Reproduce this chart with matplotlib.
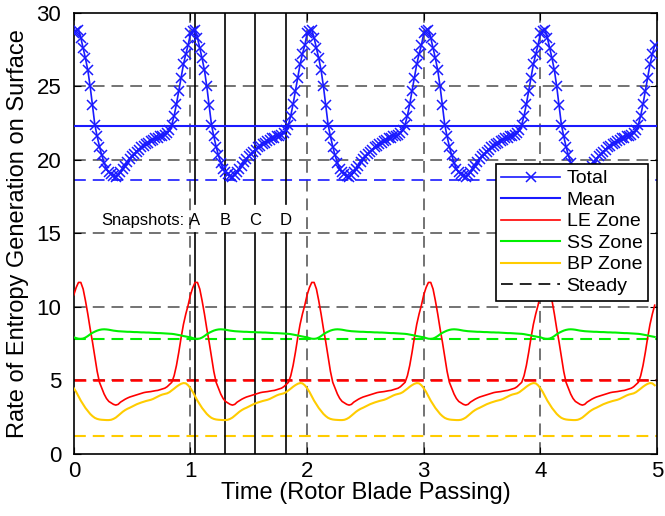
import numpy as np
import matplotlib
matplotlib.use("Agg")
import matplotlib.pyplot as plt
from matplotlib.lines import Line2D

plt.rcParams["font.family"] = ["Liberation Sans", "DejaVu Sans"]
plt.rcParams["lines.scale_dashes"] = False

# One blade-passing period, sampled every 0.02
dt = 0.02
n_periods = 5

total_period = [
    28.6, 28.8, 28.85, 28.3, 27.6, 26.9, 26.1, 25.0, 23.7, 22.4,
    21.6, 20.9, 20.3, 19.8, 19.4, 19.15, 19.0, 18.9, 18.85, 18.95,
    19.15, 19.4, 19.6, 19.85, 20.05, 20.25, 20.4, 20.55, 20.7, 20.85,
    20.95, 21.05, 21.15, 21.25, 21.35, 21.45, 21.5, 21.6, 21.65, 21.7,
    21.8, 22.0, 22.4, 23.0, 23.8, 24.7, 25.6, 26.5, 27.2, 27.8,
]
le_period = [
    10.8, 11.3, 11.65, 11.65, 11.2, 10.4, 9.5, 8.5, 7.6, 6.6,
    5.6, 4.85, 4.45, 4.05, 3.75, 3.55, 3.45, 3.35, 3.3, 3.35,
    3.5, 3.6, 3.7, 3.78, 3.85, 3.9, 3.95, 4.0, 4.05, 4.1,
    4.15, 4.18, 4.2, 4.22, 4.25, 4.28, 4.3, 4.35, 4.4, 4.45,
    4.55, 4.7, 4.85, 5.3, 6.0, 6.9, 7.9, 8.8, 9.5, 10.1,
]
ss_period = [
    7.92, 7.86, 7.82, 7.81, 7.83, 7.9, 8.0, 8.12, 8.22, 8.3,
    8.37, 8.42, 8.45, 8.46, 8.45, 8.43, 8.4, 8.37, 8.35, 8.33,
    8.32, 8.31, 8.3, 8.29, 8.29, 8.28, 8.27, 8.27, 8.26, 8.25,
    8.25, 8.24, 8.24, 8.23, 8.22, 8.21, 8.2, 8.2, 8.19, 8.18,
    8.17, 8.16, 8.15, 8.13, 8.1, 8.07, 8.04, 8.0, 7.97, 7.94,
]
bp_period = [
    4.45, 4.2, 3.9, 3.6, 3.35, 3.1, 2.9, 2.7, 2.55, 2.43,
    2.36, 2.32, 2.3, 2.29, 2.28, 2.28, 2.3, 2.36, 2.45, 2.58,
    2.72, 2.85, 2.96, 3.05, 3.12, 3.2, 3.28, 3.36, 3.42, 3.48,
    3.53, 3.58, 3.62, 3.66, 3.72, 3.8, 3.88, 3.96, 4.02, 4.06,
    4.1, 4.18, 4.3, 4.42, 4.55, 4.66, 4.75, 4.8, 4.78, 4.65,
]

mean_total = 22.3
steady_total = 18.6
steady_le = 5.0
steady_ss = 7.8
steady_bp = 1.2

snapshot_names = ["A", "B", "C", "D"]
snapshot_times = [1.035, 1.295, 1.555, 1.815]

time = np.arange(len(total_period) * n_periods) * dt
total = np.tile(total_period, n_periods)
le = np.tile(le_period, n_periods)
ss = np.tile(ss_period, n_periods)
bp = np.tile(bp_period, n_periods)

BLUE = "#1a1aff"
RED = "#ff0000"
GREEN = "#00f000"
YELLOW = "#ffcc00"
DASH = (8.5, 5)

fig = plt.figure(figsize=(6.65, 5.16), dpi=100)
ax = fig.add_axes([0.111, 0.121, 0.877, 0.854])

# grid
for gx in [1, 2, 3, 4]:
    ax.axvline(gx, color="0.3", lw=1.1, dashes=DASH, zorder=1)
for gy in [5, 10, 15, 20, 25]:
    ax.axhline(gy, color="0.3", lw=1.1, dashes=DASH, zorder=1)

# steady values
ax.axhline(steady_total, color=BLUE, lw=1.2, dashes=DASH, zorder=2)
ax.axhline(steady_le, color=RED, lw=1.8, dashes=DASH, zorder=2)
ax.axhline(steady_ss, color=GREEN, lw=1.5, dashes=DASH, zorder=2)
ax.axhline(steady_bp, color=YELLOW, lw=1.5, dashes=DASH, zorder=2)

# snapshot markers
for name, t in zip(snapshot_names, snapshot_times):
    ax.plot([t, t], [0, 15], color="black", lw=1.2, zorder=3)
    ax.plot([t, t], [17, 30], color="black", lw=1.2, zorder=3)
    ax.text(t, 15.9, name, ha="center", va="center", fontsize=12)
ax.text(0.945, 15.9, "Snapshots:", ha="right", va="center", fontsize=12)

ax.plot(time, total, color=BLUE, lw=1.2, marker="x", ms=7, mew=1.1, zorder=4)
ax.axhline(mean_total, color=BLUE, lw=1.5, zorder=4)
ax.plot(time, le, color=RED, lw=1.2, zorder=4)
ax.plot(time, ss, color=GREEN, lw=1.5, zorder=4)
ax.plot(time, bp, color=YELLOW, lw=1.5, zorder=4)

ax.set_xlim(0, 5)
ax.set_ylim(0, 30)
ax.set_xticks([0, 1, 2, 3, 4, 5])
ax.set_yticks([0, 5, 10, 15, 20, 25, 30])
ax.tick_params(direction="in", length=5, labelsize=16, top=True, right=True)
ax.tick_params(axis="x", pad=5)
ax.tick_params(axis="y", pad=9)
for s in ax.spines.values():
    s.set_linewidth(1.2)
ax.set_xlabel("Time (Rotor Blade Passing)", fontsize=17, labelpad=0)
ax.set_ylabel("Rate of Entropy Generation on Surface", fontsize=17, labelpad=5)

handles = [
    Line2D([], [], color=BLUE, lw=1.2, marker="x", ms=7, mew=1.1),
    Line2D([], [], color=BLUE, lw=1.5),
    Line2D([], [], color=RED, lw=1.2),
    Line2D([], [], color=GREEN, lw=1.5),
    Line2D([], [], color=YELLOW, lw=1.5),
    Line2D([], [], color="black", lw=1.2, dashes=DASH),
]
labels = ["Total", "Mean", "LE Zone", "SS Zone", "BP Zone", "Steady"]
leg = ax.legend(handles, labels, loc="upper right", bbox_to_anchor=(0.985, 0.657),
                fontsize=14, handlelength=3.0, labelspacing=0.2, borderpad=0.3,
                handletextpad=0.35, borderaxespad=0, fancybox=False, framealpha=1,
                edgecolor="black")
leg.get_frame().set_linewidth(1.2)
leg.set_zorder(10)

fig.savefig("out.png", dpi=100)
